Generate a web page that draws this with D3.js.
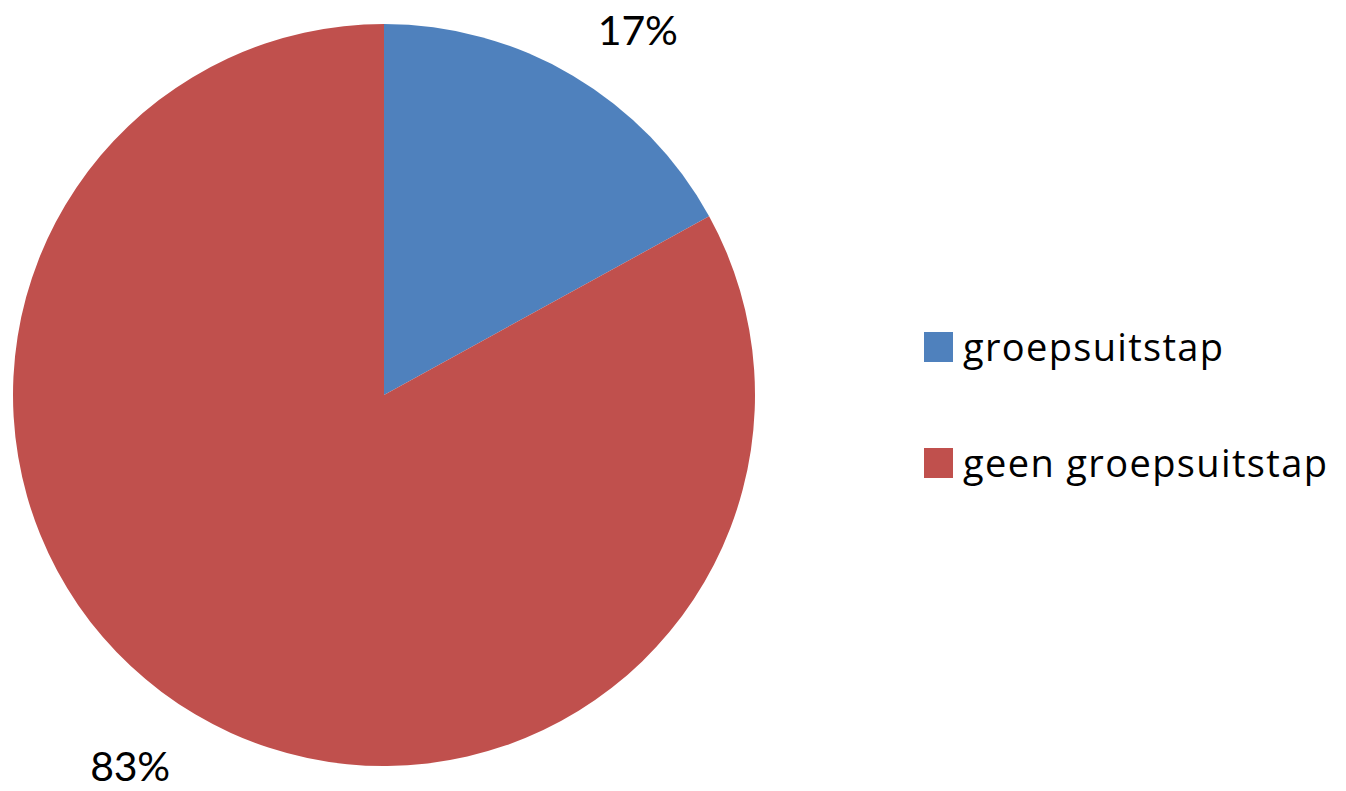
<!DOCTYPE html>
<html>
<head>
<meta charset="utf-8">
<script src="https://cdn.jsdelivr.net/npm/d3@7"></script>
<style>
  html, body { margin: 0; padding: 0; background: #fff; }
  svg { display: block; }
  text { font-family: "Open Sans", "Noto Sans", sans-serif; fill: #000; }
  text.pct { font-family: Lato, "Open Sans", sans-serif; }
</style>
</head>
<body>
<svg id="chart" width="1346" height="791"></svg>
<script>
// Share of respondents with / without a group outing
const categories = ["groepsuitstap", "geen groepsuitstap"];
const shares = [17, 83];
const colors = ["#4F81BD", "#C0504D"];

const svg = d3.select("#chart");
const cx = 384, cy = 395, radius = 371;

const pie = d3.pie().sort(null).value(d => d.value);
const data = pie(categories.map((c, i) => ({ name: c, value: shares[i], color: colors[i] })));

const arc = d3.arc().innerRadius(0).outerRadius(radius);

const g = svg.append("g").attr("transform", `translate(${cx},${cy})`);

g.selectAll("path")
  .data(data)
  .join("path")
  .attr("d", arc)
  .attr("fill", d => d.data.color);

// Percentage labels outside each slice
const labelR = 447;
const shift = 4 * Math.PI / 180;
g.selectAll("text.pct")
  .data(data)
  .join("text")
  .attr("class", "pct")
  .attr("x", d => labelR * Math.sin((d.startAngle + d.endAngle) / 2 + shift))
  .attr("y", d => -labelR * Math.cos((d.startAngle + d.endAngle) / 2 + shift))
  .attr("text-anchor", "middle")
  .attr("dy", "0.43em")
  .attr("font-size", 41)
  .attr("textLength", 80)
  .attr("lengthAdjust", "spacing")
  .text(d => d3.format(".0f")(d.data.value) + "%");

// Legend
const legend = svg.append("g").attr("transform", "translate(924,332)");
const rowGap = 116;
const textWidths = [260, 364];
const items = legend.selectAll("g")
  .data(data)
  .join("g")
  .attr("transform", (d, i) => `translate(0,${i * rowGap})`);

items.append("rect")
  .attr("width", 29)
  .attr("height", 30)
  .attr("fill", d => d.data.color);

items.append("text")
  .attr("x", 39)
  .attr("y", 29)
  .attr("font-size", 38)
  .attr("textLength", (d, i) => textWidths[i])
  .attr("lengthAdjust", "spacing")
  .text(d => d.data.name);
</script>
</body>
</html>
